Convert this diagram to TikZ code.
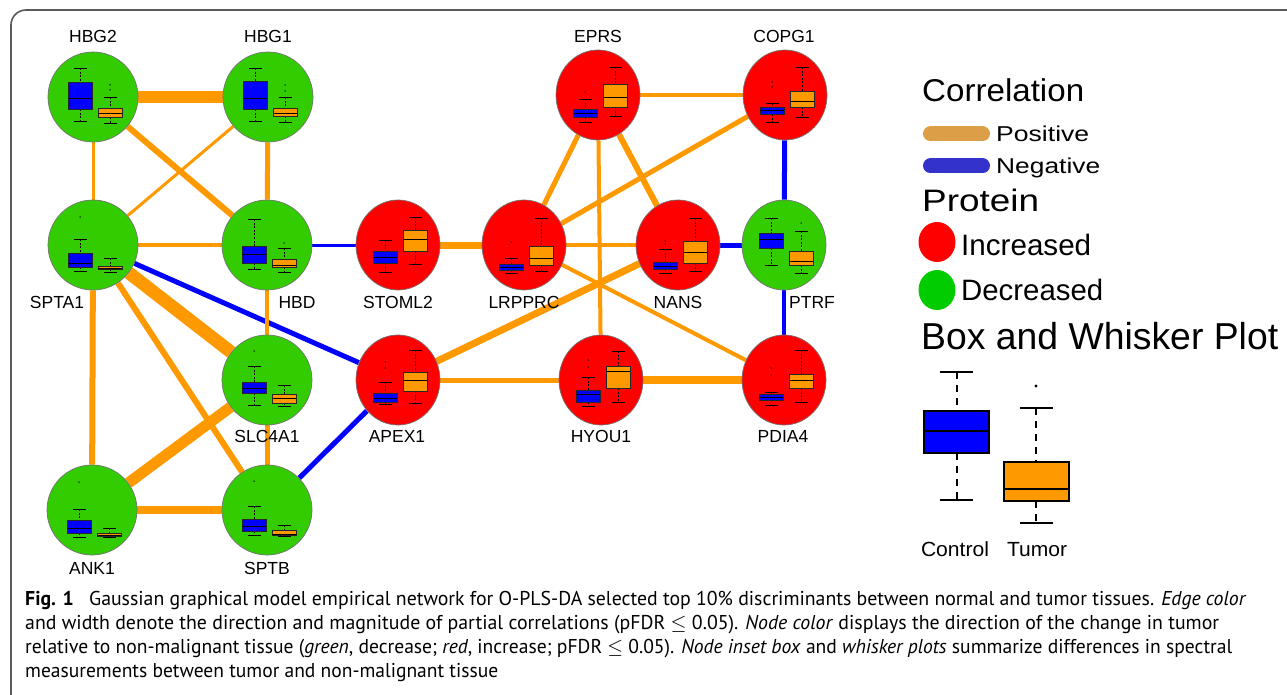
\documentclass[tikz,border=0pt]{standalone}
\usepackage{fontspec}
\usepackage{graphicx}
\setmainfont{Liberation Sans}
\newfontfamily\capfont{PT Sans}
\usetikzlibrary{shapes.geometric,backgrounds}
\definecolor{ngreen}{RGB}{51,204,0}
\definecolor{nred}{RGB}{255,0,0}
\definecolor{eorange}{RGB}{255,153,0}
\definecolor{eblue}{RGB}{0,0,255}
\definecolor{lgorange}{RGB}{221,158,72}
\definecolor{lgblue}{RGB}{51,51,204}
\definecolor{lggreen}{RGB}{0,204,0}
\definecolor{framegray}{RGB}{90,90,90}
\tikzset{
  prot/.style={ellipse, draw=black!55, line width=0.7pt, minimum height=90pt, inner sep=0pt},
  incL/.style={prot, fill=nred, minimum width=84pt},
  decL/.style={prot, fill=ngreen, minimum width=90pt},
  decR/.style={prot, fill=ngreen, minimum width=84pt},
  plab/.style={font=\fontsize{17.5}{20}\selectfont, inner sep=0pt, anchor=base},
  pc/.style={draw=eorange, line width=#1pt},
  nc/.style={draw=eblue, line width=#1pt},
  whisk/.style={draw=black, line width=0.7pt, dash pattern=on 2pt off 1.6pt},
  capl/.style={draw=black, line width=0.8pt},
  boxl/.style={draw=black!85, line width=0.8pt},
  medl/.style={draw=black, line width=0.9pt},
  legt/.style={inner sep=0pt, anchor=base west},
}
% one box plot: x-centre, colour, top cap, box top, median, box bottom, bottom cap
\newcommand{\bxone}[7]{%
  \draw[whisk] (#1,#3) -- (#1,#4) (#1,#6) -- (#1,#7);
  \draw[capl] (#1-6.5,#3) -- (#1+6.5,#3) (#1-6.5,#7) -- (#1+6.5,#7);
  \filldraw[boxl, fill=#2] (#1-12,#4) rectangle (#1+12,#6);
  \draw[medl] (#1-12,#5) -- (#1+12,#5);
}
\newcommand{\bxp}[3]{%
  \begin{scope}[shift={(#1.center)}]
    \bxone{-13}{eblue}#2
    \bxone{17}{eorange}#3
  \end{scope}}
\newcommand{\bxd}[3]{%
  \begin{scope}[shift={(#1.center)}]
    \foreach \d in {#3} {\fill (#2,\d) circle (0.75pt);}
  \end{scope}}
\newcommand{\sz}[3]{{\fontsize{#2}{#2}\selectfont\resizebox{#1}{\height}{#3}}}
\begin{document}
\begin{tikzpicture}[x=1pt, y=-1pt]
\useasboundingbox (0,0) rectangle (1287,695);
% frame
\draw[framegray, line width=1.6pt] (11,695) -- (11,25) arc[start angle=180, end angle=270, radius=15] -- (1287,10);

% nodes
\node[decL] (HBG2) at (93,97) {};
\node[decL] (HBG1) at (268,97) {};
\node[decL] (SPTA1) at (93,245) {};
\node[decL] (HBD) at (267,245) {};
\node[decL] (SLC4A1) at (267,380) {};
\node[decL] (ANK1) at (92,510) {};
\node[decL] (SPTB) at (267,510) {};
\node[incL] (EPRS) at (598,95) {};
\node[incL] (COPG1) at (785,95) {};
\node[incL] (STOML2) at (398,245) {};
\node[incL] (LRPPRC) at (524,245) {};
\node[incL] (NANS) at (678,245) {};
\node[decR] (PTRF) at (784,245) {};
\node[incL] (APEX1) at (398,380) {};
\node[incL] (HYOU1) at (601,380) {};
\node[incL] (PDIA4) at (784,380) {};

% edges
\begin{pgfonlayer}{background}
\draw[pc=12] (HBG2) -- (HBG1);
\draw[pc=3] (HBG2) -- (SPTA1);
\draw[pc=6] (HBG2) -- (HBD);
\draw[pc=3] (HBG1) -- (SPTA1);
\draw[pc=5] (HBG1) -- (HBD);
\draw[pc=4] (SPTA1) -- (HBD);
\draw[nc=3] (HBD) -- (STOML2);
\draw[nc=5] (SPTA1) -- (APEX1);
\draw[pc=13] (SPTA1) -- (SLC4A1);
\draw[pc=6] (SPTA1) -- (SPTB);
\draw[pc=6] (SPTA1) -- (ANK1);
\draw[pc=4] (HBD) -- (SLC4A1);
\draw[pc=5] (SLC4A1) -- (SPTB);
\draw[pc=11] (SLC4A1) -- (ANK1);
\draw[pc=8] (ANK1) -- (SPTB);
\draw[nc=5] (SPTB) -- (APEX1);
\draw[pc=7] (STOML2) -- (LRPPRC);
\draw[pc=5] (LRPPRC) -- (EPRS);
\draw[pc=5] (LRPPRC) -- (COPG1);
\draw[pc=4] (LRPPRC) -- (NANS);
\draw[pc=4] (LRPPRC) -- (PDIA4);
\draw[pc=4] (EPRS) -- (COPG1);
\draw[pc=6] (EPRS) -- (NANS);
\draw[pc=4] (EPRS) -- (HYOU1);
\draw[pc=7] (NANS) -- (APEX1);
\draw[nc=5] (NANS) -- (PTRF);
\draw[nc=5] (COPG1) -- (PTRF);
\draw[nc=4] (PTRF) -- (PDIA4);
\draw[pc=5] (APEX1) -- (HYOU1);
\draw[pc=8] (HYOU1) -- (PDIA4);
\end{pgfonlayer}

% inset box plots
\bxp{HBG2}{{-29}{-15}{1}{12}{24}}{{0}{11}{16}{20}{26}} \bxd{HBG2}{17}{-12,-7}
\bxp{HBG1}{{-29}{-16}{1}{12}{24}}{{0}{11}{16}{19}{25}} \bxd{HBG1}{17}{-12,-6}
\bxp{SPTA1}{{-6}{8}{18}{22}{26}}{{13}{21}{23}{24}{27}} \bxd{SPTA1}{-13}{-28}
\bxp{HBD}{{-26}{1}{9}{18}{24}}{{3}{14}{20}{22}{27}} \bxd{HBD}{17}{-2}
\bxp{SLC4A1}{{-14}{2}{8}{13}{25}}{{5}{14}{18}{23}{26}} \bxd{SLC4A1}{-13}{-29}
\bxp{ANK1}{{-1}{10}{18}{23}{27}}{{18}{23}{25}{26}{27}} \bxd{ANK1}{-13}{-28}
\bxp{SPTB}{{-4}{9}{16}{21}{25}}{{15}{20}{24}{25}{26}} \bxd{SPTB}{-13}{-29}
\bxp{EPRS}{{4}{14}{18}{22}{27}}{{-28}{-11}{2}{12}{21}} \bxd{EPRS}{-13}{-3}
\bxp{COPG1}{{8}{12}{15}{19}{27}}{{-28}{-4}{6}{12}{22}} \bxd{COPG1}{-13}{-13,-8}
\bxp{STOML2}{{-5}{6}{12}{18}{27}}{{-28}{-15}{-6}{6}{19}}
\bxp{LRPPRC}{{13}{19}{22}{25}{28}}{{-27}{1}{13}{20}{26}} \bxd{LRPPRC}{-13}{-3}
\bxp{NANS}{{4}{17}{21}{24}{28}}{{-27}{-4}{7}{18}{26}} \bxd{NANS}{-13}{-4,-1}
\bxp{PTRF}{{-27}{-12}{-6}{3}{20}}{{-14}{6}{16}{20}{28}} \bxd{PTRF}{17}{-22}
\bxp{APEX1}{{2}{13}{18}{22}{24}}{{-30}{-8}{0}{11}{23}} \bxd{APEX1}{-13}{-18,-12}
\bxp{HYOU1}{{-3}{10}{14}{22}{26}}{{-29}{-14}{-9}{8}{22}} \bxd{HYOU1}{-13}{-20,-13}
\bxp{PDIA4}{{12}{14}{17}{20}{25}}{{-30}{-6}{0}{8}{22}} \bxd{PDIA4}{-13}{-12,-5}

% node labels
\node[plab] (lHBG2) at (93,42.5) {HBG2};
\node[plab] (lHBG1) at (268,42.5) {HBG1};
\node[plab] (lEPRS) at (598,42.5) {EPRS};
\node[plab] (lCOPG1) at (784,42.5) {COPG1};
\node[plab] (lSPTA1) at (57,308) {SPTA1};
\node[plab] (lHBD) at (297,308) {HBD};
\node[plab] (lSTOML2) at (398,308) {STOML2};
\node[plab] (lLRPPRC) at (524,308) {LRPPRC};
\node[plab] (lNANS) at (678,308) {NANS};
\node[plab] (lPTRF) at (812,308) {PTRF};
\node[plab] (lSLC4A1) at (267,442.5) {SLC4A1};
\node[plab] (lAPEX1) at (397,442) {APEX1};
\node[plab] (lHYOU1) at (601,442) {HYOU1};
\node[plab] (lPDIA4) at (783,442) {PDIA4};
\node[plab] (lANK1) at (92,574) {ANK1};
\node[plab] (lSPTB) at (267,574) {SPTB};

% legend
\node[legt] (tCorr) at (922,101.5) {\sz{162pt}{31.5}{Correlation}};
\draw[lgorange, line width=15pt, line cap=round] (930.5,134) -- (982.5,134);
\node[legt] (tPos) at (996,141.5) {\sz{93pt}{21.5}{Positive}};
\draw[lgblue, line width=15pt, line cap=round] (930.5,166) -- (982.5,166);
\node[legt] (tNeg) at (996,173.5) {\sz{104pt}{21.5}{Negative}};
\node[legt] (tProt) at (922,211.5) {\sz{117pt}{31}{Protein}};
\node[ellipse, fill=nred, minimum width=37pt, minimum height=40pt, inner sep=0pt] (lgInc) at (937,242) {};
\node[legt] (tInc) at (961,255.5) {\sz{130pt}{29.5}{Increased}};
\node[ellipse, fill=lggreen, minimum width=37pt, minimum height=40pt, inner sep=0pt] (lgDec) at (937,290) {};
\node[legt] (tDec) at (961,300.5) {\sz{142pt}{29.5}{Decreased}};
\node[legt] (tBox) at (921,349) {\sz{357pt}{37.5}{Box and Whisker Plot}};
% legend box plot
\draw[line width=2pt, dash pattern=on 7pt off 6pt] (957,372) -- (957,411) (957,453) -- (957,500);
\draw[line width=2pt] (940,372) -- (973,372) (940,500) -- (973,500);
\filldraw[fill=eblue, draw=black, line width=2pt] (924,411) rectangle (989,453);
\draw[line width=2pt] (924,431) -- (989,431);
\draw[line width=2pt, dash pattern=on 7pt off 6pt] (1036,408) -- (1036,462) (1036,501) -- (1036,523);
\draw[line width=2pt] (1020,408) -- (1053,408) (1020,523) -- (1053,523);
\filldraw[fill=eorange, draw=black, line width=2pt] (1004,462) rectangle (1069,501);
\draw[line width=2pt] (1004,489) -- (1069,489);
\fill (1036,386) circle (1.6pt);
\node[inner sep=0pt, anchor=base] (tCtl) at (955,556) {\sz{68pt}{20.5}{Control}};
\node[inner sep=0pt, anchor=base] (tTum) at (1037,556) {\sz{60pt}{20.5}{Tumor}};

% caption
\node[legt] (cap1) at (25,605) {\capfont\sz{1221pt}{20}{\textbf{Fig. 1}\hspace{0.5em} Gaussian graphical model empirical network for O-PLS-DA selected top 10\% discriminants between normal and tumor tissues. \textit{Edge color}}};
\node[legt] (cap2) at (25,629) {\capfont\sz{1194pt}{20}{and width denote the direction and magnitude of partial correlations (pFDR $\leq$ 0.05). \textit{Node color} displays the direction of the change in tumor}};
\node[legt] (cap3) at (25,653) {\capfont\sz{1207pt}{20}{relative to non-malignant tissue (\textit{green}, decrease; \textit{red}, increase; pFDR $\leq$ 0.05). \textit{Node inset box} and \textit{whisker plots} summarize differences in spectral}};
\node[legt] (cap4) at (25,677) {\capfont\sz{473pt}{20}{measurements between tumor and non-malignant tissue}};
\end{tikzpicture}
\end{document}
